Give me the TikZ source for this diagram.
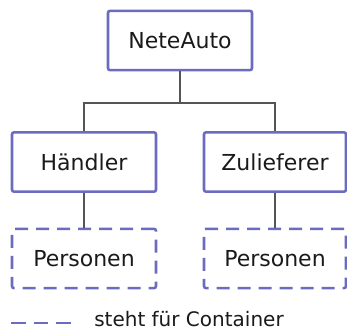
\documentclass[tikz,border=0pt]{standalone}
\usepackage{fontspec}
\setmainfont{DejaVu Sans}
\definecolor{boxline}{HTML}{6B6BBF}
\definecolor{linkline}{HTML}{555555}
\definecolor{txt}{HTML}{1A1A1A}
\begin{document}
\begin{tikzpicture}[x=0.75pt,y=-0.75pt,
  entity/.style={draw=boxline, line width=1.9pt, rounded corners=1.5pt,
    minimum width=108pt, minimum height=44.5pt, inner sep=0pt,
    font=\fontsize{16.5}{20}\selectfont, text=txt},
  container/.style={entity, dash pattern=on 9.75pt off 6pt},
  link/.style={draw=linkline, line width=2.1pt},
  legenddash/.style={draw=boxline, line width=1.9pt, dash pattern=on 11pt off 6pt}]
\useasboundingbox (0,0) rectangle (347,330);

% organisation tree
\node[entity] (top) at (180,40.5) {NeteAuto\hspace{2pt}};
\node[entity] (haendler) at (84,162) {Händler\hspace{6pt}};
\node[entity, minimum width=106.5pt] (zulieferer) at (275,162) {Zulieferer};
\node[container] (pers1) at (84,258.5) {Personen\hspace{10pt}};
\node[container, minimum width=106.5pt] (pers2) at (275,258.5) {Personen};

% connectors
\coordinate (split) at (180,103);
\draw[link] (top.south) -- (split);
\draw[link] (split) -| (haendler.north);
\draw[link] (split) -| (zulieferer.north);
\draw[link] (haendler.south) -- (pers1.north);
\draw[link] (zulieferer.south) -- (pers2.north);

% legend
\coordinate (legA) at (11,323);
\coordinate (legB) at (77,323);
\draw[legenddash] (legA) -- (legB);
\node[anchor=west, font=\fontsize{15}{18}\selectfont, text=txt, inner sep=0pt] (legtext) at (94,319.5) {steht für Container};
\end{tikzpicture}
\end{document}
